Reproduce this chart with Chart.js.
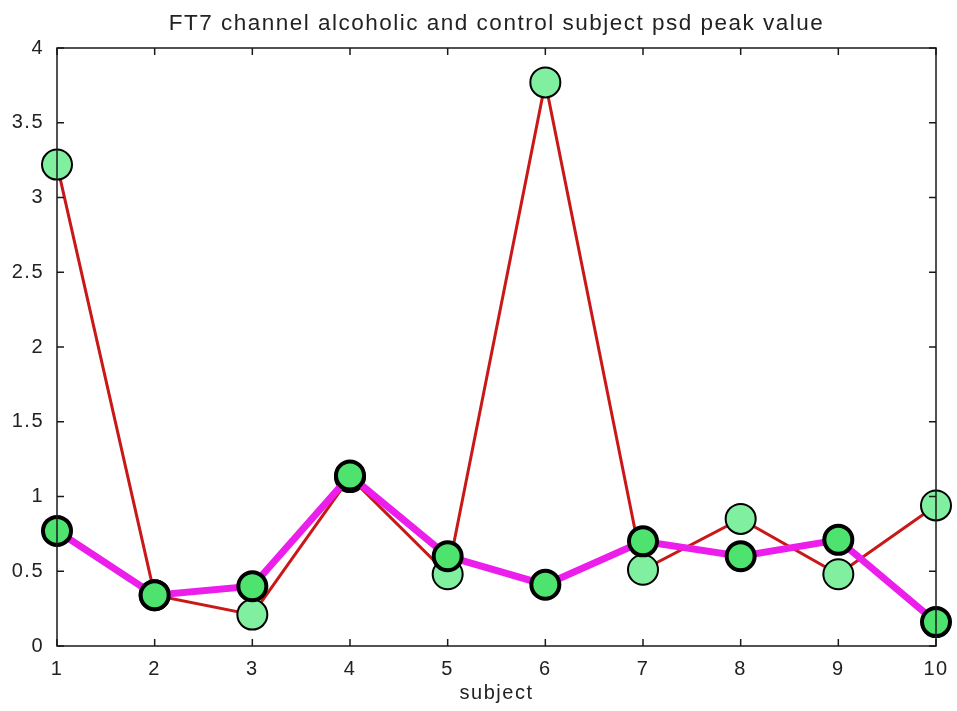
<!DOCTYPE html>
<html>
<head>
<meta charset="utf-8">
<script src="https://cdn.jsdelivr.net/npm/chart.js@4.4.1/dist/chart.umd.min.js"></script>
<style>
  html, body { margin: 0; padding: 0; background: #ffffff; }
  #wrap { width: 957px; height: 711px; }
</style>
</head>
<body>
<div id="wrap"><canvas id="psd-chart" width="957" height="711"></canvas></div>
<script>
const subjects = ['1', '2', '3', '4', '5', '6', '7', '8', '9', '10'];
const alcoholicPeak = [3.22, 0.34, 0.21, 1.13, 0.48, 3.77, 0.51, 0.85, 0.48, 0.94];
const controlPeak = [0.77, 0.34, 0.40, 1.14, 0.60, 0.41, 0.70, 0.60, 0.71, 0.16];
const yTicks = [0, 0.5, 1, 1.5, 2, 2.5, 3, 3.5, 4];

const FONT = "'Liberation Sans', Arial, sans-serif";
const TEXT_COLOR = '#222222';
const RED_LINE = '#c81818';
const MAGENTA_LINE = '#ec1eec';
const LIGHT_MARKER = '#80f0a0';
const DARK_MARKER = '#4ee36e';

// the old matlab text is spread out a bit more than a plain sans font
const letterSpacing = {
  id: 'letterSpacing',
  beforeUpdate(chart) {
    chart.ctx.letterSpacing = '1.5px';
  },
  beforeDraw(chart) {
    chart.ctx.letterSpacing = '1.5px';
  },
};

// MATLAB style box with inward ticks, drawn over the markers
const axesBox = {
  id: 'axesBox',
  afterDatasetsDraw(chart) {
    const { ctx, chartArea, scales } = chart;
    const { left, right, top, bottom } = chartArea;
    const tickLen = 7;
    ctx.save();
    ctx.strokeStyle = '#1a1a1a';
    ctx.lineWidth = 1.5;
    ctx.strokeRect(left, top, right - left, bottom - top);
    ctx.beginPath();
    subjects.forEach((s, i) => {
      const x = scales.x.getPixelForValue(i);
      ctx.moveTo(x, bottom);
      ctx.lineTo(x, bottom - tickLen);
      ctx.moveTo(x, top);
      ctx.lineTo(x, top + tickLen);
    });
    yTicks.forEach((v) => {
      const y = scales.y.getPixelForValue(v);
      ctx.moveTo(left, y);
      ctx.lineTo(left + tickLen, y);
      ctx.moveTo(right, y);
      ctx.lineTo(right - tickLen, y);
    });
    ctx.stroke();
    ctx.restore();
  },
};

function createChartData() {
  return {
    labels: subjects,
    datasets: [
      {
        label: 'control',
        data: controlPeak,
        borderColor: MAGENTA_LINE,
        borderWidth: 7,
        pointRadius: 14,
        pointHoverRadius: 14,
        pointBorderWidth: 4,
        pointBorderColor: '#000000',
        pointBackgroundColor: DARK_MARKER,
        tension: 0,
        clip: false,
        order: 0,
      },
      {
        label: 'alcoholic',
        data: alcoholicPeak,
        borderColor: RED_LINE,
        borderWidth: 3,
        pointRadius: 15,
        pointHoverRadius: 15,
        pointBorderWidth: 2,
        pointBorderColor: '#000000',
        pointBackgroundColor: LIGHT_MARKER,
        tension: 0,
        clip: false,
        order: 1,
      },
    ],
  };
}

function createChartScales() {
  return {
    x: {
      type: 'category',
      offset: false,
      grid: { display: false },
      border: { display: false },
      ticks: {
        color: TEXT_COLOR,
        font: { family: FONT, size: 20 },
        padding: 3,
        maxRotation: 0,
        autoSkip: false,
      },
      title: {
        display: true,
        text: 'subject',
        color: TEXT_COLOR,
        font: { family: FONT, size: 20 },
        padding: { top: 0, bottom: 6 },
      },
      afterFit: (scale) => {
        scale.height = 65;
      },
    },
    y: {
      min: 0,
      max: 4,
      grid: { display: false },
      border: { display: false },
      ticks: {
        stepSize: 0.5,
        color: TEXT_COLOR,
        font: { family: FONT, size: 20 },
        padding: 5,
        callback: (value) => String(value),
      },
      afterFit: (scale) => {
        scale.width = 57;
      },
    },
  };
}

const ctx = document.getElementById('psd-chart').getContext('2d');

new Chart(ctx, {
  type: 'line',
  data: createChartData(),
  options: {
    responsive: false,
    animation: false,
    maintainAspectRatio: false,
    layout: { padding: { left: 0, right: 21, top: 0, bottom: 0 } },
    scales: createChartScales(),
    plugins: {
      legend: { display: false },
      tooltip: { enabled: false },
      title: {
        display: true,
        fullSize: false,
        text: 'FT7 channel alcoholic and control subject psd peak value',
        color: TEXT_COLOR,
        font: { family: FONT, size: 22.5, weight: 'normal' },
        padding: { top: 10, bottom: 11 },
      },
    },
  },
  plugins: [letterSpacing, axesBox],
});
</script>
</body>
</html>
